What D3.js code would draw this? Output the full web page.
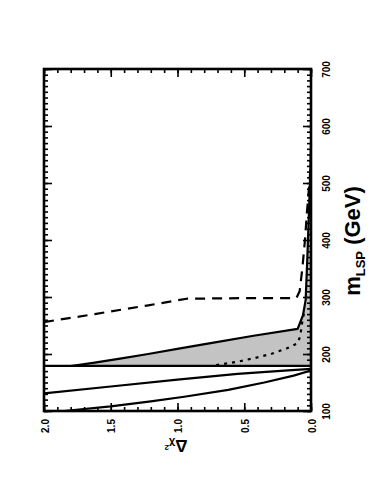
<!DOCTYPE html>
<html><head><meta charset="utf-8">
<script src="https://cdn.jsdelivr.net/npm/d3@7"></script>
<style>body{margin:0;background:#fff}svg{display:block}text{font-family:"Liberation Sans",Arial,sans-serif;font-weight:bold}</style>
</head><body>
<svg id="c" width="374" height="500"></svg>
<script>
const mMajor=[100,200,300,400,500,600,700];
const chiMajor=[0,0.5,1.0,1.5,2.0];
const chiLabels=["0.0","0.5","1.0","1.5","2.0"];
// curves: m_LSP (GeV) and delta chi^2
const curveA_m=[100,108,117,125,137,150,162,171];
const curveA_chi=[1.85,1.5,1.2,0.95,0.62,0.35,0.13,0.0];
const curveB_m=[131,143,155,165,171,174];
const curveB_chi=[2.0,1.5,1.0,0.55,0.2,0.0];
const curveC_m=[179,179];
const curveC_chi=[0.0,2.0];
const curveD_m=[179,185,192,200,210,220,232,244,268,295,365,450,520,570];
const curveD_chi=[1.8,1.62,1.43,1.22,0.98,0.73,0.43,0.1,0.06,0.04,0.028,0.015,0.005,0.0];
const dotted_m=[180.5,186,193,200,210,219,232,250,275];
const dotted_chi=[0.71,0.56,0.42,0.30,0.18,0.10,0.08,0.07,0.05];
const dashed_m=[256,270,285,293,297,298,298,310,350,400,450,500,540];
const dashed_chi=[2.0,1.62,1.23,1.03,0.93,0.5,0.11,0.085,0.065,0.045,0.03,0.012,0.0];

const svg=d3.select("#c");
const mS=d3.scaleLinear().domain([100,700]).range([411,69]);
const cS=d3.scaleLinear().domain([0,2]).range([311,44]);
const zip=(a,b)=>a.map((v,i)=>[v,b[i]]);
const line=d3.line().x(d=>cS(d[1])).y(d=>mS(d[0]));

// gray region
const grayPts=[[179,0]].concat(zip(curveD_m,curveD_chi));
svg.append("path").attr("d",line(grayPts)+"Z").attr("fill","#c3c3c3").attr("stroke","none");

const plot=[[curveA_m,curveA_chi,null],[curveB_m,curveB_chi,null],[curveC_m,curveC_chi,null],[curveD_m,curveD_chi,null],
  [dotted_m,dotted_chi,"3,5"],[dashed_m,dashed_chi,"10,7"]];
plot.forEach(p=>{
  svg.append("path").attr("d",line(zip(p[0],p[1]))).attr("fill","none").attr("stroke","#000")
    .attr("stroke-width",2.2).attr("stroke-dasharray",p[2]).attr("stroke-linejoin","round");
});

const mMinor=d3.range(100,701,10);
const chiMinor=d3.range(0,2.001,0.1);
function ticks(axisGen,tr){
  const g=svg.append("g").attr("transform",tr).call(axisGen);
  g.select(".domain").remove();
  g.selectAll("line").attr("stroke","#000").attr("stroke-width",1.6);
  return g;
}
// left edge (chi=2) ticks pointing right
ticks(d3.axisRight(mS).tickValues(mMinor).tickSize(4).tickFormat(""),"translate(44,0)");
ticks(d3.axisRight(mS).tickValues(mMajor).tickSize(8).tickFormat(""),"translate(44,0)");
// right edge (chi=0) ticks pointing left
ticks(d3.axisLeft(mS).tickValues(mMinor).tickSize(4).tickFormat(""),"translate(311,0)");
const gR=ticks(d3.axisLeft(mS).tickValues(mMajor).tickSize(8).tickFormat(d3.format("d")),"translate(311,0)");
gR.selectAll("text").attr("x",null).attr("dy",null).attr("fill","#000")
  .attr("text-anchor","middle").attr("font-size",10).attr("font-family","Liberation Sans, Arial").attr("font-weight","bold")
  .attr("transform","translate(19,0) rotate(-90)");
// top edge ticks pointing down
ticks(d3.axisBottom(cS).tickValues(chiMinor).tickSize(4).tickFormat(""),"translate(0,69)");
ticks(d3.axisBottom(cS).tickValues(chiMajor).tickSize(8).tickFormat(""),"translate(0,69)");
// bottom edge ticks pointing up
ticks(d3.axisTop(cS).tickValues(chiMinor).tickSize(4).tickFormat(""),"translate(0,411)");
const gB=ticks(d3.axisTop(cS).tickValues(chiMajor).tickSize(8).tickFormat((d,i)=>chiLabels[i]),"translate(0,411)");
gB.selectAll("text").attr("y",null).attr("dy",null).attr("fill","#000")
  .attr("text-anchor","middle").attr("font-size",10).attr("font-family","Liberation Sans, Arial").attr("font-weight","bold")
  .attr("transform","translate(4,15) rotate(-90)");

// frame
svg.append("rect").attr("x",44).attr("y",69).attr("width",267).attr("height",342)
  .attr("fill","none").attr("stroke","#000").attr("stroke-width",2.6);

// titles
const t1=svg.append("text").attr("transform","translate(360,241) rotate(-90)").attr("text-anchor","middle")
  .attr("font-size",22).attr("fill","#000");
t1.append("tspan").text("m");
t1.append("tspan").attr("font-size",13).attr("dy",5).text("LSP");
t1.append("tspan").attr("dy",-5).text(" (GeV)");

const t2=svg.append("text").attr("transform","translate(176,440) rotate(180)").attr("text-anchor","middle")
  .attr("font-size",17).attr("fill","#000");
t2.append("tspan").text("Δ");
t2.append("tspan").attr("font-size",11).text("χ");
t2.append("tspan").attr("font-size",8).attr("dy",-5).text("2");
</script>
</body></html>
